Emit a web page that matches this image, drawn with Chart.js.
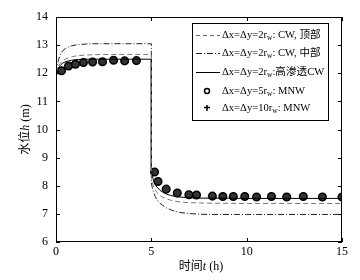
<!DOCTYPE html>
<html><head><meta charset="utf-8">
<script src="https://cdn.jsdelivr.net/npm/chart.js@4/dist/chart.umd.min.js"></script>
<style>html,body{margin:0;padding:0;background:#fff}#wrap{width:360px;height:280px}</style>
</head><body><div id="wrap"><canvas id="c" width="360" height="280"></canvas></div>
<script>
// Data
const tLine = [0, 0.05, 0.1, 0.18, 0.25, 0.35, 0.5, 0.65, 0.8, 1.0, 1.2, 1.6, 2, 3, 5, 5.001, 5.05, 5.1, 5.2, 5.3, 5.45, 5.6, 5.8, 6, 6.25, 6.5, 7, 7.5, 8, 10, 15];
const cwTop = [12.0, 12.1, 12.2, 12.3, 12.38, 12.45, 12.51, 12.55, 12.58, 12.61, 12.63, 12.65, 12.66, 12.67, 12.67, 8.3, 8.12, 8.0, 7.86, 7.76, 7.66, 7.59, 7.53, 7.49, 7.45, 7.42, 7.4, 7.39, 7.38, 7.37, 7.37];
const cwMid = [12.0, 12.22, 12.4, 12.58, 12.7, 12.8, 12.88, 12.93, 12.97, 13.0, 13.02, 13.04, 13.05, 13.05, 13.05, 8.1, 7.93, 7.8, 7.62, 7.5, 7.38, 7.3, 7.21, 7.15, 7.09, 7.05, 7.01, 6.99, 6.98, 6.98, 6.98];
const cwHigh = [11.95, 12.05, 12.15, 12.24, 12.3, 12.36, 12.41, 12.44, 12.46, 12.48, 12.49, 12.5, 12.5, 12.5, 12.5, 8.6, 8.38, 8.22, 8.05, 7.95, 7.84, 7.77, 7.7, 7.66, 7.62, 7.6, 7.57, 7.56, 7.56, 7.55, 7.55];
const tMnw = [0.29, 0.66, 1.02, 1.44, 1.92, 2.44, 3.02, 3.6, 4.22, 5.17, 5.35, 5.78, 6.36, 6.97, 7.37, 8.2, 8.75, 9.3, 9.9, 10.52, 11.3, 12.1, 12.97, 13.97, 15.0];
const mnw5 = [12.09, 12.26, 12.32, 12.38, 12.4, 12.41, 12.46, 12.44, 12.45, 8.49, 8.15, 7.88, 7.74, 7.68, 7.67, 7.63, 7.62, 7.62, 7.62, 7.6, 7.62, 7.6, 7.62, 7.6, 7.6];
const mnw10 = [12.09, 12.26, 12.32, 12.38, 12.4, 12.41, 12.46, 12.44, 12.45, 8.49, 8.15, 7.88, 7.74, 7.68, 7.67, 7.63, 7.62, 7.62, 7.62, 7.6, 7.62, 7.6, 7.62, 7.6, 7.6];
const xTicks = [0, 5, 10, 15];
const yTicks = [6, 7, 8, 9, 10, 11, 12, 13, 14];

const SERIF = '"Liberation Serif","Noto Sans CJK SC",serif';
const pts = (xs, ys) => xs.map((x, i) => ({x: x, y: ys[i]}));

const framePlugin = {
  id: 'frame',
  afterDraw(chart) {
    const ctx = chart.ctx, a = chart.chartArea;
    const xs = chart.scales.x, ys = chart.scales.y;
    ctx.save();
    ctx.strokeStyle = '#000'; ctx.lineWidth = 1;
    ctx.strokeRect(a.left + 0.5, a.top + 0.5, a.right - a.left - 1, a.bottom - a.top - 1);
    ctx.beginPath();
    xTicks.forEach(v => {
      const p = Math.round(xs.getPixelForValue(v)) + 0.5;
      ctx.moveTo(p, a.bottom); ctx.lineTo(p, a.bottom - 4);
      ctx.moveTo(p, a.top); ctx.lineTo(p, a.top + 4);
    });
    yTicks.forEach(v => {
      const p = Math.round(ys.getPixelForValue(v)) + 0.5;
      ctx.moveTo(a.left, p); ctx.lineTo(a.left + 4, p);
      ctx.moveTo(a.right, p); ctx.lineTo(a.right - 4, p);
    });
    ctx.stroke();
    // axis titles
    ctx.fillStyle = '#000';
    ctx.textBaseline = 'middle';
    const drawParts = (parts, x, y) => {
      let w = 0;
      parts.forEach(p => { ctx.font = p[1]; w += ctx.measureText(p[0]).width; });
      let cx = x - w / 2;
      parts.forEach(p => { ctx.font = p[1]; ctx.textAlign = 'left'; ctx.fillText(p[0], cx, y); cx += ctx.measureText(p[0]).width; });
    };
    drawParts([['时间', '12px ' + SERIF], ['t', 'italic 12px ' + SERIF], [' (h)', '12px ' + SERIF]], (a.left + a.right) / 2 + 2, 267);
    ctx.save();
    ctx.translate(26, (a.top + a.bottom) / 2);
    ctx.rotate(-Math.PI / 2);
    drawParts([['水位', '12px ' + SERIF], ['h', 'italic 12px ' + SERIF], [' (m)', '12px ' + SERIF]], 0, 0);
    ctx.restore();
    // legend
    const bx = 192, by = 23, bw = 136, bh = 97;
    ctx.fillStyle = '#fff';
    ctx.fillRect(bx, by, bw, bh);
    ctx.strokeStyle = '#000'; ctx.lineWidth = 1;
    ctx.strokeRect(bx + 0.5, by + 0.5, bw, bh);
    const rows = [35, 53, 72, 91, 108];
    const lineSty = [[[4, 3], '#666'], [[6, 2, 1, 2], '#222'], [[], '#000']];
    for (let i = 0; i < 3; i++) {
      ctx.beginPath(); ctx.setLineDash(lineSty[i][0]); ctx.strokeStyle = lineSty[i][1];
      ctx.moveTo(196, rows[i] + 0.5); ctx.lineTo(220, rows[i] + 0.5); ctx.stroke();
    }
    ctx.setLineDash([]);
    ctx.strokeStyle = '#000'; ctx.lineWidth = 1.5;
    ctx.beginPath(); ctx.arc(207, rows[3], 2.5, 0, Math.PI * 2); ctx.stroke();
    ctx.beginPath(); ctx.moveTo(207, rows[4] - 3); ctx.lineTo(207, rows[4] + 3);
    ctx.moveTo(204, rows[4] - 0.5); ctx.lineTo(210, rows[4] - 0.5); ctx.stroke();
    const labels = [['2', ': CW, 顶部'], ['2', ': CW, 中部'], ['2', ':高渗透CW'], ['5', ': MNW'], ['10', ': MNW']];
    ctx.fillStyle = '#000';
    labels.forEach((l, i) => {
      let x = 222; const y = rows[i];
      ctx.textAlign = 'left'; ctx.font = '10.6px ' + SERIF;
      const s1 = 'Δx=Δy=' + l[0] + 'r';
      ctx.fillText(s1, x, y); x += ctx.measureText(s1).width;
      ctx.font = '7.5px ' + SERIF; ctx.fillText('w', x, y + 3); x += ctx.measureText('w').width;
      ctx.font = '10.6px ' + SERIF; ctx.fillText(l[1], x, y);
    });
    ctx.restore();
  }
};

new Chart(document.getElementById('c'), {
  type: 'line',
  data: {
    datasets: [
      {data: pts(tLine, cwTop), borderColor: '#777', borderWidth: 1, borderDash: [5, 3], pointRadius: 0, tension: 0},
      {data: pts(tLine, cwMid), borderColor: '#222', borderWidth: 1, borderDash: [6, 2, 1, 2], pointRadius: 0, tension: 0},
      {data: pts(tLine, cwHigh), borderColor: '#000', borderWidth: 1, pointRadius: 0, tension: 0},
      {data: pts(tMnw, mnw5), showLine: false, pointStyle: 'circle', pointRadius: 3.8, pointBorderWidth: 1.5, pointBorderColor: '#000', pointBackgroundColor: '#333'},
      {data: pts(tMnw, mnw10), showLine: false, pointStyle: 'cross', pointRadius: 3, pointBorderWidth: 1, pointBorderColor: '#ccc'}
    ]
  },
  options: {
    responsive: false, animation: false,
    layout: {padding: {top: 17, right: 18, left: 0, bottom: 0}},
    plugins: {legend: {display: false}, tooltip: {enabled: false}},
    scales: {
      x: {
        type: 'linear', min: 0, max: 15,
        afterBuildTicks: s => { s.ticks = xTicks.map(v => ({value: v})); },
        afterFit: s => { s.height = 38; },
        grid: {display: false, drawTicks: false},
        border: {display: false},
        ticks: {color: '#000', padding: 3, font: {family: SERIF, size: 12}}
      },
      y: {
        min: 6, max: 14,
        afterBuildTicks: s => { s.ticks = yTicks.map(v => ({value: v})); },
        afterFit: s => { s.width = 56; },
        grid: {display: false, drawTicks: false},
        border: {display: false},
        ticks: {color: '#000', padding: 8, font: {family: SERIF, size: 12}}
      }
    }
  },
  plugins: [framePlugin]
});
</script></body></html>
